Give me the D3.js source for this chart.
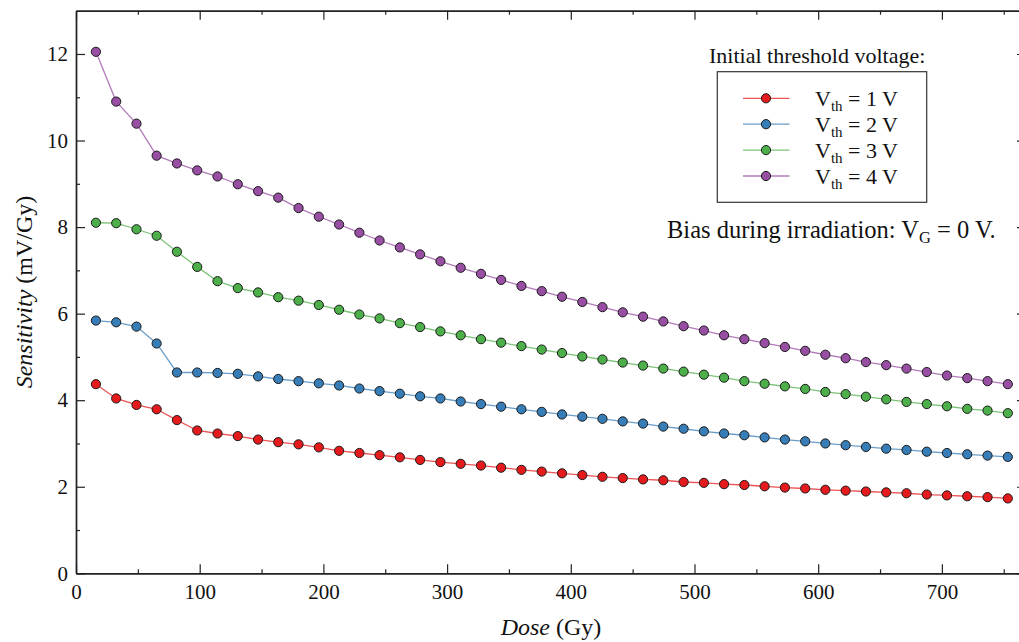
<!DOCTYPE html>
<html>
<head>
<meta charset="utf-8">
<script src="https://cdn.jsdelivr.net/npm/d3@7"></script>
<style>
  html, body { margin: 0; padding: 0; background: #fff; }
  svg { display: block; }
  text { font-family: "Liberation Serif", "Times New Roman", serif; fill: #111; }
</style>
</head>
<body>
<svg id="chart" width="1019" height="642"></svg>
<script>
// Irradiation dose (Gy) at each measurement
const dose = [16.1, 32.5, 48.9, 65.2, 81.6, 98.0, 114.4, 130.8, 147.2, 163.5, 179.9, 196.3,
  212.7, 229.1, 245.4, 261.8, 278.2, 294.6, 311.0, 327.4, 343.7, 360.1, 376.5, 392.9,
  409.3, 425.6, 442.0, 458.4, 474.8, 491.2, 507.6, 523.9, 540.3, 556.7, 573.1, 589.5,
  605.8, 622.2, 638.6, 655.0, 671.4, 687.8, 704.1, 720.5, 736.9, 753.3];

// Sensitivity (mV/Gy) for each initial threshold voltage
const vth1 = [4.37, 4.04, 3.89, 3.79, 3.54, 3.30, 3.23, 3.17, 3.09, 3.03, 2.98, 2.91,
  2.83, 2.78, 2.73, 2.68, 2.62, 2.57, 2.53, 2.49, 2.44, 2.39, 2.35, 2.31, 2.27, 2.23, 2.20, 2.17,
  2.15, 2.11, 2.09, 2.06, 2.04, 2.01, 1.98, 1.96, 1.93, 1.91, 1.89, 1.87, 1.85, 1.82, 1.80, 1.78, 1.76, 1.73];
const vth2 = [5.84, 5.80, 5.70, 5.31, 4.64, 4.64, 4.63, 4.61, 4.55, 4.49, 4.44, 4.39,
  4.34, 4.27, 4.21, 4.15, 4.09, 4.04, 3.97, 3.91, 3.85, 3.79, 3.73, 3.67, 3.62, 3.57, 3.51, 3.46,
  3.39, 3.34, 3.28, 3.23, 3.19, 3.14, 3.09, 3.05, 3.00, 2.96, 2.92, 2.88, 2.85, 2.81, 2.78, 2.75, 2.72, 2.69];
const vth3 = [8.10, 8.09, 7.95, 7.80, 7.43, 7.08, 6.75, 6.59, 6.49, 6.38, 6.30, 6.20,
  6.09, 5.98, 5.89, 5.78, 5.69, 5.59, 5.50, 5.41, 5.33, 5.25, 5.17, 5.09, 5.01, 4.94, 4.87, 4.80,
  4.73, 4.66, 4.59, 4.52, 4.44, 4.38, 4.32, 4.26, 4.19, 4.14, 4.08, 4.02, 3.96, 3.91, 3.86, 3.80, 3.76, 3.70];
const vth4 = [12.05, 10.90, 10.39, 9.65, 9.47, 9.31, 9.17, 8.99, 8.83, 8.68, 8.44, 8.24,
  8.06, 7.87, 7.69, 7.53, 7.37, 7.21, 7.06, 6.92, 6.78, 6.64, 6.52, 6.39, 6.27, 6.15, 6.03, 5.93,
  5.82, 5.71, 5.61, 5.50, 5.41, 5.32, 5.23, 5.14, 5.05, 4.97, 4.88, 4.81, 4.73, 4.65, 4.57, 4.51, 4.44, 4.37];

const seriesLabels = ["1", "2", "3", "4"];
const seriesColors = ["#e41a1c", "#377eb8", "#4daf4a", "#984ea3"];

const xMajorTicks = [0, 100, 200, 300, 400, 500, 600, 700];
const xMinorTicks = [50, 150, 250, 350, 450, 550, 650, 750];
const yMajorTicks = [0, 2, 4, 6, 8, 10, 12];
const yMinorTicks = [1, 3, 5, 7, 9, 11];

const series = [vth1, vth2, vth3, vth4].map((vals, i) => ({
  label: seriesLabels[i],
  color: seriesColors[i],
  points: vals.map((v, j) => ({ x: dose[j], y: v }))
}));

const svg = d3.select("#chart");
const plot = { left: 76, right: 1026, top: 10.7, bottom: 573.3 };

const x = d3.scaleLinear().domain([0, 768]).range([plot.left, plot.right]);
const y = d3.scaleLinear().domain([0, 13]).range([plot.bottom, plot.top]);

const axisColor = "#222";
const tickFont = 21;

function styleAxis(g) {
  g.select(".domain").attr("stroke", axisColor).attr("stroke-width", 1.4);
  g.selectAll(".tick line").attr("stroke", axisColor).attr("stroke-width", 1.2);
  g.selectAll(".tick text").attr("font-size", tickFont).attr("fill", "#111")
    .attr("font-family", "Liberation Serif, serif");
}

// Minor ticks (inward)
svg.append("g").attr("transform", `translate(0,${plot.bottom})`)
  .call(d3.axisBottom(x).tickValues(xMinorTicks).tickSize(-4).tickFormat("").tickSizeOuter(0))
  .call(styleAxis);
svg.append("g").attr("transform", `translate(0,${plot.top})`)
  .call(d3.axisTop(x).tickValues(xMinorTicks).tickSize(-4).tickFormat("").tickSizeOuter(0))
  .call(styleAxis);
svg.append("g").attr("transform", `translate(${plot.left},0)`)
  .call(d3.axisLeft(y).tickValues(yMinorTicks).tickSize(-4).tickFormat("").tickSizeOuter(0))
  .call(styleAxis);
svg.append("g").attr("transform", `translate(${plot.right},0)`)
  .call(d3.axisRight(y).tickValues(yMinorTicks).tickSize(-4).tickFormat("").tickSizeOuter(0))
  .call(styleAxis);

// Major ticks with labels on bottom and left, mirrored on top and right
svg.append("g").attr("transform", `translate(0,${plot.bottom})`)
  .call(d3.axisBottom(x).tickValues(xMajorTicks).tickSize(-9).tickPadding(11).tickSizeOuter(0))
  .call(styleAxis);
svg.append("g").attr("transform", `translate(0,${plot.top})`)
  .call(d3.axisTop(x).tickValues(xMajorTicks).tickSize(-9).tickFormat("").tickSizeOuter(0))
  .call(styleAxis);
svg.append("g").attr("transform", `translate(${plot.left},0)`)
  .call(d3.axisLeft(y).tickValues(yMajorTicks).tickSize(-9).tickPadding(8).tickSizeOuter(0))
  .call(styleAxis);
svg.append("g").attr("transform", `translate(${plot.right},0)`)
  .call(d3.axisRight(y).tickValues(yMajorTicks).tickSize(-9).tickFormat("").tickSizeOuter(0))
  .call(styleAxis);

// Series lines and markers
const line = d3.line().x(d => x(d.x)).y(d => y(d.y));
const groups = svg.append("g").selectAll("g.series").data(series).join("g").attr("class", "series");
groups.append("path")
  .attr("d", d => line(d.points))
  .attr("fill", "none")
  .attr("stroke", d => d.color)
  .attr("stroke-opacity", 0.75)
  .attr("stroke-width", 1.3);
groups.selectAll("circle").data(d => d.points.map(p => ({ ...p, color: d.color }))).join("circle")
  .attr("cx", d => x(d.x))
  .attr("cy", d => y(d.y))
  .attr("r", 4.6)
  .attr("fill", d => d.color)
  .attr("stroke", "#1a1a1a")
  .attr("stroke-width", 1);

// Axis titles
const xTitle = svg.append("text")
  .attr("x", (plot.left + plot.right) / 2).attr("y", 635)
  .attr("text-anchor", "middle").attr("font-size", 24);
xTitle.append("tspan").attr("font-style", "italic").text("Dose");
xTitle.append("tspan").text(" (Gy)");

const yTitle = svg.append("text")
  .attr("transform", "translate(32,292) rotate(-90)")
  .attr("text-anchor", "middle").attr("font-size", 24);
yTitle.append("tspan").attr("font-style", "italic").text("Sensitivity");
yTitle.append("tspan").text(" (mV/Gy)");

// Legend
svg.append("text").attr("x", 709).attr("y", 63).attr("font-size", 22)
  .text("Initial threshold voltage:");

svg.append("rect")
  .attr("x", 717.3).attr("y", 71.7).attr("width", 209.4).attr("height", 130.6)
  .attr("fill", "#fff").attr("stroke", "#333").attr("stroke-width", 1.2);

const legendRow = svg.append("g").selectAll("g").data(series).join("g")
  .attr("transform", (d, i) => `translate(0,${98.3 + i * 25.9})`);
legendRow.append("line")
  .attr("x1", 743).attr("x2", 789.5).attr("y1", 0).attr("y2", 0)
  .attr("stroke", d => d.color).attr("stroke-opacity", 0.75).attr("stroke-width", 1.3);
legendRow.append("circle")
  .attr("cx", 766).attr("cy", 0).attr("r", 4.6)
  .attr("fill", d => d.color).attr("stroke", "#1a1a1a").attr("stroke-width", 1);
const lt = legendRow.append("text").attr("x", 815).attr("y", 7.5).attr("font-size", 22);
lt.append("tspan").text("V");
lt.append("tspan").attr("font-size", 15).attr("dy", 5).text("th");
lt.append("tspan").attr("dy", -5).text(d => ` = ${d.label} V`);

// Bias note
const note = svg.append("text").attr("x", 667).attr("y", 238).attr("font-size", 24.5);
note.append("tspan").text("Bias during irradiation: V");
note.append("tspan").attr("font-size", 16.5).attr("dy", 5).text("G");
note.append("tspan").attr("dy", -5).text(" = 0 V.");
</script>
</body>
</html>
